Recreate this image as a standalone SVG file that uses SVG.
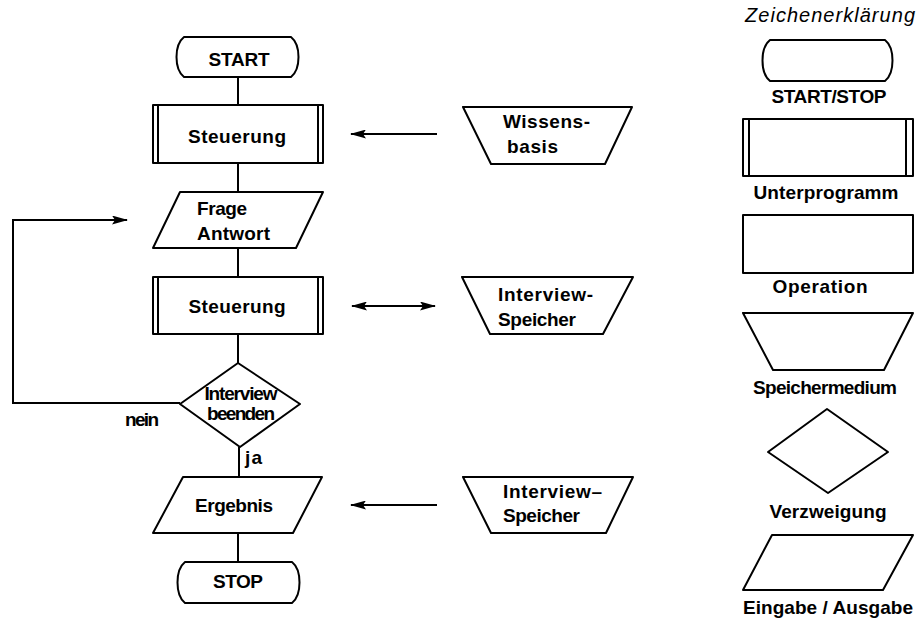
<svg xmlns="http://www.w3.org/2000/svg" width="917" height="619" viewBox="0 0 917 619">
<defs>
<marker id="ah" viewBox="0 0 16 9" refX="15" refY="4.5" markerWidth="16" markerHeight="9" markerUnits="userSpaceOnUse" orient="auto-start-reverse">
<path d="M0,0 L16,4.5 L0,9 L3,4.5 Z" fill="#000"/>
</marker>
</defs>
<style>
.s{fill:#fff;stroke:#000;stroke-width:2;stroke-linejoin:round}
.l{fill:none;stroke:#000;stroke-width:2}
.t{font-family:"Liberation Sans",Arial,sans-serif;font-weight:bold;font-size:19px;fill:#000}
.m{text-anchor:middle}
.i{font-family:"Liberation Sans",Arial,sans-serif;font-style:italic;font-size:20px;fill:#000}
</style>
<rect width="917" height="619" fill="#fff"/>
<g id="connectors">
<path class="l" d="M238,77 V105 M238,163 V192 M238,248 V277 M238,334 V363 M239,447 V477 M238,533 V562"/>
<path class="l" d="M180,403 H13 V220 H127" marker-end="url(#ah)"/>
<path class="l" d="M437,134 H351" marker-end="url(#ah)"/>
<path class="l" d="M352,306 H435" marker-start="url(#ah)" marker-end="url(#ah)"/>
<path class="l" d="M437,505 H351" marker-end="url(#ah)"/>
</g>
<g id="start">
<path class="s" d="M184,37 H291 C301,45 301,69 291,77 H184 C174,69 174,45 184,37 Z"/>
<text class="t m" x="239" y="66" textLength="61">START</text>
</g>
<g id="steuerung1">
<rect class="s" x="153" y="105" width="170" height="58"/>
<path class="l" d="M158,105 V163 M318,105 V163"/>
<text class="t m" x="237" y="143" textLength="98">Steuerung</text>
</g>
<g id="frage">
<path class="s" d="M180,192 H323 L296,248 H153 Z"/>
<text class="t" x="197" y="215" textLength="50">Frage</text>
<text class="t" x="197" y="240" textLength="73">Antwort</text>
</g>
<g id="steuerung2">
<rect class="s" x="153" y="277" width="170" height="57"/>
<path class="l" d="M158,277 V334 M318,277 V334"/>
<text class="t m" x="237" y="313" textLength="97">Steuerung</text>
</g>
<g id="entscheidung">
<path class="s" d="M238,363 L300,404 L240,447 L180,404 Z"/>
<text class="t m" x="241" y="400" font-size="14" textLength="73">Interview</text>
<text class="t m" x="241" y="420" font-size="14" textLength="68">beenden</text>
<text class="t" x="125" y="426" textLength="34">nein</text>
<text class="t" x="245" y="464" textLength="17">ja</text>
</g>
<g id="ergebnis">
<path class="s" d="M183,477 H322 L293,533 H153 Z"/>
<text class="t m" x="234" y="512" textLength="78">Ergebnis</text>
</g>
<g id="stop">
<path class="s" d="M185,562 H292 C302,570 302,595 292,603 H185 C175,595 175,570 185,562 Z"/>
<text class="t m" x="238" y="588" textLength="50">STOP</text>
</g>
<g id="wissensbasis">
<path class="s" d="M463,107 H632 L605,164 H491 Z"/>
<text class="t" x="503" y="128" textLength="87">Wissens-</text>
<text class="t" x="507" y="153" textLength="51">basis</text>
</g>
<g id="speicher1">
<path class="s" d="M462,277 H633 L603,334 H490 Z"/>
<text class="t" x="498" y="301" textLength="95">Interview-</text>
<text class="t" x="498" y="326" textLength="78">Speicher</text>
</g>
<g id="speicher2">
<path class="s" d="M463,477 H633 L606,533 H491 Z"/>
<text class="t" x="503" y="498" textLength="99">Interview–</text>
<text class="t" x="503" y="522" textLength="77">Speicher</text>
</g>
<g id="legende">
<text class="i" x="745" y="22" textLength="170">Zeichenerklärung</text>
<path class="s" d="M770,40 H885 C895,48 895,73 885,81 H770 C760,73 760,48 770,40 Z"/>
<text class="t m" x="829" y="103" textLength="115">START/STOP</text>
<rect class="s" x="743" y="119" width="170" height="57"/>
<path class="l" d="M749,119 V176 M906,119 V176"/>
<text class="t m" x="826" y="199" textLength="145">Unterprogramm</text>
<rect class="s" x="743" y="215" width="170" height="58"/>
<text class="t m" x="820" y="293" textLength="95">Operation</text>
<path class="s" d="M743,313 H913 L884,370 H773 Z"/>
<text class="t m" x="825" y="394" textLength="144">Speichermedium</text>
<path class="s" d="M827,409 L888,452 L828,493 L768,452 Z"/>
<text class="t m" x="828" y="518" textLength="117">Verzweigung</text>
<path class="s" d="M772,535 H913 L883,590 H743 Z"/>
<text class="t m" x="828" y="614" textLength="170">Eingabe / Ausgabe</text>
</g>
</svg>
